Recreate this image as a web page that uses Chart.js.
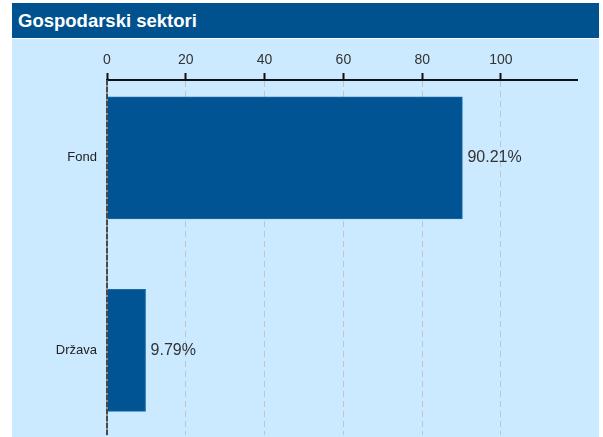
<!DOCTYPE html>
<html>
<head>
<meta charset="utf-8">
<script src="https://cdn.jsdelivr.net/npm/chart.js@4.4.0/dist/chart.umd.min.js"></script>
<style>
  html, body { margin: 0; padding: 0; background: #ffffff; }
  #title { position: absolute; left: 12px; top: 3px; width: 587px; height: 35px; background: #00528f;
    color: #ffffff; font-family: "Liberation Sans", Arial, sans-serif; font-weight: bold; font-size: 18.5px;
    line-height: 35px; box-sizing: border-box; padding-left: 6px; }
  #panel { position: absolute; left: 12px; top: 39px; width: 587px; height: 398px; background: #cceaff; overflow: hidden; }
  canvas { display: block; }
</style>
</head>
<body>
<div id="title">Gospodarski sektori</div>
<div id="panel"><canvas id="c" width="587" height="414"></canvas></div>
<script>
const categories = ["Fond", "Država"];
const shares = [90.21, 9.79];
const xTicks = [0, 20, 40, 60, 80, 100];

const FONT = "'Liberation Sans', Arial, sans-serif";

const labelPlugin = {
  id: 'valueLabels',
  afterDatasetsDraw(chart) {
    const ctx = chart.ctx;
    const meta = chart.getDatasetMeta(0);
    const area = chart.chartArea;
    const x0 = chart.scales.x.getPixelForValue(0);
    ctx.save();
    // dashed zero line drawn over the bars
    ctx.strokeStyle = '#8c8c8c';
    ctx.lineWidth = 2;
    ctx.beginPath();
    ctx.moveTo(x0, area.top);
    ctx.lineTo(x0, area.bottom);
    ctx.stroke();
    ctx.strokeStyle = '#333333';
    ctx.lineWidth = 1.5;
    ctx.setLineDash([5, 2]);
    ctx.beginPath();
    ctx.moveTo(x0, area.top);
    ctx.lineTo(x0, area.bottom);
    ctx.stroke();
    ctx.setLineDash([]);
    ctx.font = "16px " + FONT;
    ctx.fillStyle = '#333333';
    ctx.textAlign = 'left';
    ctx.textBaseline = 'middle';
    meta.data.forEach((el, i) => {
      ctx.fillText(shares[i].toFixed(2) + '%', el.x + 5, el.y);
    });
    ctx.restore();
  }
};

new Chart(document.getElementById('c'), {
  type: 'bar',
  data: {
    datasets: [{
      data: shares.map((v, i) => ({ x: v, y: i })),
      backgroundColor: '#005493',
      borderColor: '#1b6aa5',
      borderWidth: 1,
      barThickness: 122
    }]
  },
  options: {
    indexAxis: 'y',
    responsive: false,
    animation: false,
    layout: { padding: { left: 0, top: 0, right: 22, bottom: 5 } },
    plugins: { legend: { display: false }, tooltip: { enabled: false } },
    scales: {
      x: {
        type: 'linear',
        position: 'top',
        min: 0,
        max: 119.3,
        afterFit(s) { s.height = 41; },
        afterBuildTicks(s) { s.ticks = xTicks.map(v => ({ value: v })); },
        border: { display: true, color: '#111111', width: 2, dash: [6, 4] },
        grid: {
          color: '#c4c4c4',
          lineWidth: 1,
          drawTicks: true,
          tickLength: 7,
          tickColor: '#111111',
          tickWidth: 2,
          tickBorderDash: []
        },
        ticks: { color: '#333333', font: { family: FONT, size: 14 }, padding: 4 }
      },
      y: {
        type: 'linear',
        reverse: true,
        offset: false,
        min: -0.404,
        max: 1.44,
        afterFit(s) { s.width = 95; },
        afterBuildTicks(s) { s.ticks = categories.map((c, i) => ({ value: i })); },
        border: { display: false },
        grid: { display: false, drawTicks: false },
        ticks: {
          color: '#222222',
          font: { family: FONT, size: 13 },
          padding: 10,
          callback: (v) => categories[v] !== undefined ? categories[v] : ''
        }
      }
    }
  },
  plugins: [labelPlugin]
});
</script>
</body>
</html>
